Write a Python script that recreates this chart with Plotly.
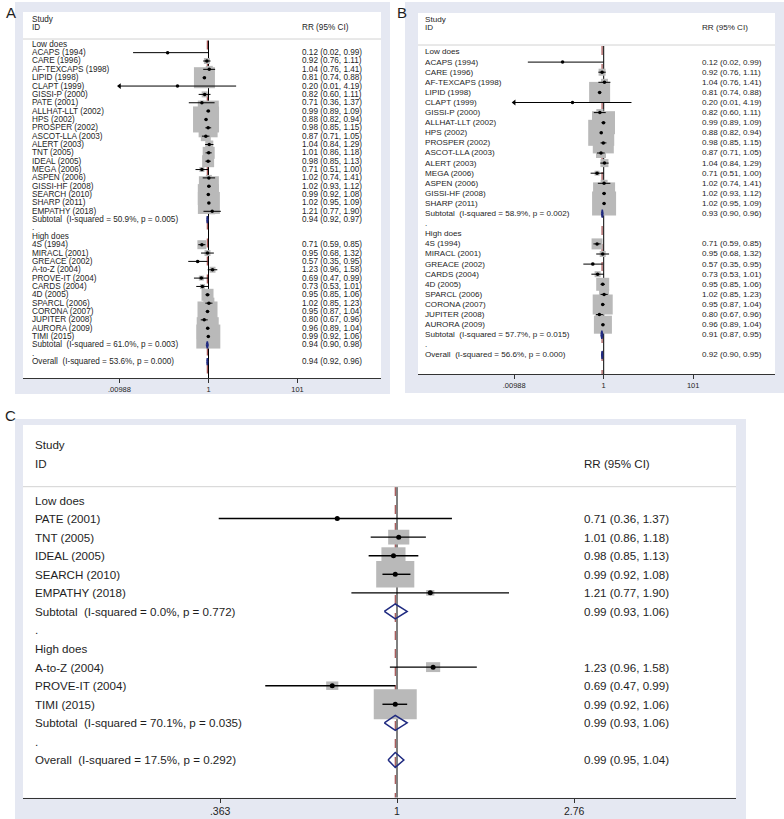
import plotly.graph_objects as go

# ======================= DATA =======================
# ---- Panel A ----
A_low_study = ["ACAPS (1994)", "CARE (1996)", "AF-TEXCAPS (1998)", "LIPID (1998)", "CLAPT (1999)",
               "GISSI-P (2000)", "PATE (2001)", "ALLHAT-LLT (2002)", "HPS (2002)", "PROSPER (2002)",
               "ASCOT-LLA (2003)", "ALERT (2003)", "TNT (2005)", "IDEAL (2005)", "MEGA (2006)",
               "ASPEN (2006)", "GISSI-HF (2008)", "SEARCH (2010)", "SHARP (2011)", "EMPATHY (2018)"]
A_low_rr = [0.12, 0.92, 1.04, 0.81, 0.20, 0.82, 0.71, 0.99, 0.88, 0.98, 0.87, 1.04, 1.01, 0.98, 0.71, 1.02, 1.02, 0.99, 1.02, 1.21]
A_low_lo = [0.02, 0.76, 0.76, 0.74, 0.01, 0.60, 0.36, 0.89, 0.82, 0.85, 0.71, 0.84, 0.86, 0.85, 0.51, 0.74, 0.93, 0.92, 0.95, 0.77]
A_low_hi = [0.99, 1.11, 1.41, 0.88, 4.19, 1.11, 1.37, 1.09, 0.94, 1.15, 1.05, 1.29, 1.18, 1.13, 1.00, 1.41, 1.12, 1.08, 1.09, 1.90]
A_low_w = [0.07, 0.60, 0.82, 7.41, 0.02, 0.60, 0.27, 7.41, 11.36, 6.06, 1.68, 1.08, 2.42, 2.42, 0.42, 0.60, 6.72, 7.41, 8.13, 0.60]
A_low_sub = [0.94, 0.92, 0.97]
A_low_het = ["50.9%", "0.005"]
A_high_study = ["4S (1994)", "MIRACL (2001)", "GREACE (2002)", "A-to-Z (2004)", "PROVE-IT (2004)", "CARDS (2004)",
                "4D (2005)", "SPARCL (2006)", "CORONA (2007)", "JUPITER (2008)", "AURORA (2009)", "TIMI (2015)"]
A_high_rr = [0.71, 0.95, 0.57, 1.23, 0.69, 0.73, 0.95, 1.02, 0.95, 0.80, 0.96, 0.99]
A_high_lo = [0.59, 0.68, 0.35, 0.96, 0.47, 0.53, 0.85, 0.85, 0.87, 0.67, 0.89, 0.92]
A_high_hi = [0.85, 1.32, 0.95, 1.58, 0.99, 1.01, 1.06, 1.23, 1.04, 0.96, 1.04, 1.06]
A_high_w = [1.36, 0.60, 0.15, 0.60, 0.42, 0.42, 2.42, 2.03, 6.72, 1.36, 8.13, 9.68]
A_high_sub = [0.94, 0.90, 0.98]
A_high_het = ["61.0%", "0.003"]
A_overall = [0.94, 0.92, 0.96]
A_overall_het = ["53.6%", "0.000"]
A_arrow = ["CLAPT (1999)"]
A_tickvals = [0.00988, 1, 101]
A_ticktext = [".00988", "1", "101"]

# ---- Panel B ----
B_low_study = ["ACAPS (1994)", "CARE (1996)", "AF-TEXCAPS (1998)", "LIPID (1998)", "CLAPT (1999)",
               "GISSI-P (2000)", "ALLHAT-LLT (2002)", "HPS (2002)", "PROSPER (2002)", "ASCOT-LLA (2003)",
               "ALERT (2003)", "MEGA (2006)", "ASPEN (2006)", "GISSI-HF (2008)", "SHARP (2011)"]
B_low_rr = [0.12, 0.92, 1.04, 0.81, 0.20, 0.82, 0.99, 0.88, 0.98, 0.87, 1.04, 0.71, 1.02, 1.02, 1.02]
B_low_lo = [0.02, 0.76, 0.76, 0.74, 0.01, 0.60, 0.89, 0.82, 0.85, 0.71, 0.84, 0.51, 0.74, 0.93, 0.95]
B_low_hi = [0.99, 1.11, 1.41, 0.88, 4.19, 1.11, 1.09, 0.94, 1.15, 1.05, 1.29, 1.00, 1.41, 1.12, 1.09]
B_low_w = [0.08, 1.02, 1.02, 9.19, 0.02, 1.02, 11.03, 14.10, 9.19, 2.09, 1.33, 0.52, 1.02, 10.09, 12.01]
B_low_sub = [0.93, 0.90, 0.96]
B_low_het = ["58.9%", "0.002"]
B_high_study = ["4S (1994)", "MIRACL (2001)", "GREACE (2002)", "CARDS (2004)", "4D (2005)",
                "SPARCL (2006)", "CORONA (2007)", "JUPITER (2008)", "AURORA (2009)"]
B_high_rr = [0.71, 0.95, 0.57, 0.73, 0.95, 1.02, 0.95, 0.80, 0.96]
B_high_lo = [0.59, 0.68, 0.35, 0.53, 0.85, 0.85, 0.87, 0.67, 0.89]
B_high_hi = [0.85, 1.32, 0.95, 1.01, 1.06, 1.23, 1.04, 0.96, 1.04]
B_high_w = [2.52, 0.75, 0.19, 0.75, 3.52, 2.09, 8.34, 1.33, 6.76]
B_high_sub = [0.91, 0.87, 0.95]
B_high_het = ["57.7%", "0.015"]
B_overall = [0.92, 0.90, 0.95]
B_overall_het = ["56.6%", "0.000"]
B_arrow = ["CLAPT (1999)"]
B_tickvals = [0.00988, 1, 101]
B_ticktext = [".00988", "1", "101"]

# ---- Panel C ----
C_low_study = ["PATE (2001)", "TNT (2005)", "IDEAL (2005)", "SEARCH (2010)", "EMPATHY (2018)"]
C_low_rr = [0.71, 1.01, 0.98, 0.99, 1.21]
C_low_lo = [0.36, 0.86, 0.85, 0.92, 0.77]
C_low_hi = [1.37, 1.18, 1.13, 1.08, 1.90]
C_low_w = [0.4, 9.4, 12.2, 30.5, 1.4]
C_low_sub = [0.99, 0.93, 1.06]
C_low_het = ["0.0%", "0.772"]
C_high_study = ["A-to-Z (2004)", "PROVE-IT (2004)", "TIMI (2015)"]
C_high_rr = [1.23, 0.69, 0.99]
C_high_lo = [0.96, 0.47, 0.92]
C_high_hi = [1.58, 0.99, 1.06]
C_high_w = [4.2, 3.1, 38.8]
C_high_sub = [0.99, 0.93, 1.06]
C_high_het = ["70.1%", "0.035"]
C_overall = [0.99, 0.95, 1.04]
C_overall_het = ["17.5%", "0.292"]
C_arrow = []
C_tickvals = [0.363, 1, 2.76]
C_ticktext = [".363", "1", "2.76"]

GROUP_LOW = "Low does"
GROUP_HIGH = "High does"

# ======================= STYLE / LAYOUT =======================
W, H = 784, 819
FONT = "Liberation Sans, Arial, sans-serif"
TXT = "#1e1e1e"
LAV = "#e5e8f2"
BOXC = "#b9b9b9"
NAVY = "#1f2a80"
RED = "#8e2a2a"
NB = "\u00a0"


def px(x):
    return x / W


def py(y):
    return 1 - y / H


panels = [
    dict(letter="A", letter_xy=(4, 13), lav=(15, 2, 390, 394),
         low=(A_low_study, A_low_rr, A_low_lo, A_low_hi, A_low_w, A_low_sub, A_low_het),
         high=(A_high_study, A_high_rr, A_high_lo, A_high_hi, A_high_w, A_high_sub, A_high_het),
         overall=(A_overall, A_overall_het), arrow=A_arrow, tv=A_tickvals, tt=A_ticktext,
         xpx=(23, 381), ypx=(12, 378), row0=44.3, dy=8.35, null=208.5, ppl=44.4,
         label_x=29.5, rr_x=300, fs=8.2, tfs=7.5, kx=7.72, ky=7.72, dot=3.5, lw=1.0, dh=0.42,
         study_y=20, id_y=28, hdr_y=39, null_top=40.5),
    dict(letter="B", letter_xy=(395, 13), lav=(405, 2, 784, 393),
         low=(B_low_study, B_low_rr, B_low_lo, B_low_hi, B_low_w, B_low_sub, B_low_het),
         high=(B_high_study, B_high_rr, B_high_lo, B_high_hi, B_high_w, B_high_sub, B_high_het),
         overall=(B_overall, B_overall_het), arrow=B_arrow, tv=B_tickvals, tt=B_ticktext,
         xpx=(418, 775), ypx=(13, 374), row0=52.0, dy=10.1, null=603.7, ppl=44.65,
         label_x=423, rr_x=699.5, fs=8.1, tfs=7.5, kx=6.93, ky=6.93, dot=3.5, lw=1.0, dh=0.4,
         study_y=19.3, id_y=27.3, hdr_y=45, null_top=46),
    dict(letter="C", letter_xy=(3, 415), lav=(15, 419, 746, 819),
         low=(C_low_study, C_low_rr, C_low_lo, C_low_hi, C_low_w, C_low_sub, C_low_het),
         high=(C_high_study, C_high_rr, C_high_lo, C_high_hi, C_high_w, C_high_sub, C_high_het),
         overall=(C_overall, C_overall_het), arrow=C_arrow, tv=C_tickvals, tt=C_ticktext,
         xpx=(23, 736), ypx=(425, 797.7), row0=500, dy=18.57, null=397, ppl=401.8,
         label_x=33, rr_x=582, fs=11.6, tfs=10.5, kx=6.9, ky=4.82, dot=5, lw=1.4, dh=0.4,
         study_y=444.3, id_y=463.3, hdr_y=486.7, null_top=487),
]

fig = go.Figure()
shapes = []
annotations = []
layout_axes = {}

# backgrounds (lavender graph region, white plot region)
for cfg in panels:
    x0, y0, x1, y1 = cfg["lav"]
    shapes.append(dict(type="rect", xref="paper", yref="paper", x0=px(x0), x1=px(x1),
                       y0=py(y1), y1=py(y0), fillcolor=LAV, line=dict(width=0), layer="below"))
for cfg in panels:
    shapes.append(dict(type="rect", xref="paper", yref="paper", x0=px(cfg["xpx"][0]), x1=px(cfg["xpx"][1]),
                       y0=py(cfg["ypx"][1]), y1=py(cfg["ypx"][0]), fillcolor="white",
                       line=dict(width=0), layer="below"))


def fmt(r, l, h):
    return "%.2f (%.2f, %.2f)" % (r, l, h)


for idx, cfg in enumerate(panels, start=1):
    sx = "" if idx == 1 else str(idx)
    xa, ya = "x" + sx, "y" + sx

    def row_of(ypix, cfg=cfg):
        return (ypix - cfg["row0"]) / cfg["dy"]

    # ---- build rows ----
    rows = []
    for gname, grp in ((GROUP_LOW, cfg["low"]), (GROUP_HIGH, cfg["high"])):
        st, rr, lo, hi, w, sub, het = grp
        if gname == GROUP_HIGH:
            rows.append((".", "blank", None))
        rows.append((gname, "blank", None))
        for s, r, l, h, ww in zip(st, rr, lo, hi, w):
            rows.append((s, "study", (r, l, h, ww)))
        rows.append(("Subtotal" + NB + NB + "(I-squared = %s, p = %s)" % (het[0], het[1]), "diam", sub))
    rows.append((".", "blank", None))
    ov, ovhet = cfg["overall"]
    rows.append(("Overall" + NB + NB + "(I-squared = %s, p = %s)" % (ovhet[0], ovhet[1]), "diam", ov))

    ybot = row_of(cfg["ypx"][1])
    ytop = row_of(cfg["ypx"][0])
    xl = (cfg["xpx"][0] - cfg["null"]) / cfg["ppl"]
    xr = (cfg["xpx"][1] - cfg["null"]) / cfg["ppl"]

    # reference lines (below boxes)
    shapes.append(dict(type="line", xref=xa, yref=ya, x0=1, x1=1, y0=row_of(cfg["null_top"]), y1=ybot,
                       line=dict(color="black", width=1), layer="below"))
    shapes.append(dict(type="line", xref=xa, yref=ya, x0=ov[0], x1=ov[0], y0=row_of(cfg["null_top"]), y1=ybot,
                       line=dict(color=RED, width=1, dash="dash"), layer="below"))
    # header separator line
    shapes.append(dict(type="line", xref="paper", yref=ya, x0=px(cfg["xpx"][0]), x1=px(cfg["xpx"][1]),
                       y0=row_of(cfg["hdr_y"]), y1=row_of(cfg["hdr_y"]),
                       line=dict(color="#d2d2d2", width=1), layer="above"))

    ci_x, ci_y, pt_x, pt_y, ar_x, ar_y, dx, dyy = [], [], [], [], [], [], [], []
    tfont = dict(family=FONT, size=cfg["fs"], color=TXT)
    for i, (label, kind, vals) in enumerate(rows):
        annotations.append(dict(xref="paper", yref=ya, x=px(cfg["label_x"]), y=i, text=label,
                                showarrow=False, xanchor="left", yanchor="middle", font=tfont))
        if kind == "study":
            r, l, h, ww = vals
            annotations.append(dict(xref="paper", yref=ya, x=px(cfg["rr_x"]), y=i, text=fmt(r, l, h),
                                    showarrow=False, xanchor="left", yanchor="middle", font=tfont))
            # weight box: area proportional to study weight (sizes in pixels -> data units)
            half_w = cfg["kx"] * ww ** 0.5 / 2 / cfg["ppl"]
            half_h = cfg["ky"] * ww ** 0.5 / 2 / cfg["dy"]
            shapes.append(dict(type="rect", xref=xa, yref=ya,
                               x0=r * 10 ** (-half_w), x1=r * 10 ** half_w,
                               y0=i - half_h, y1=i + half_h,
                               fillcolor=BOXC, line=dict(width=0), layer="below"))
            left = l
            if label in cfg["arrow"]:
                left = cfg["tv"][0]
                ar_x.append(left)
                ar_y.append(i)
            ci_x += [left, h, None]
            ci_y += [i, i, None]
            pt_x.append(r)
            pt_y.append(i)
        elif kind == "diam":
            e, l, h = vals
            annotations.append(dict(xref="paper", yref=ya, x=px(cfg["rr_x"]), y=i, text=fmt(e, l, h),
                                    showarrow=False, xanchor="left", yanchor="middle", font=tfont))
            d = cfg["dh"]
            dx += [l, e, h, e, l, None]
            dyy += [i, i - d, i, i + d, i, None]

    # header texts
    for txt, yy, xx in (("Study", cfg["study_y"], cfg["label_x"]), ("ID", cfg["id_y"], cfg["label_x"]),
                        ("RR (95% CI)", cfg["id_y"], cfg["rr_x"])):
        annotations.append(dict(xref="paper", yref=ya, x=px(xx), y=row_of(yy), text=txt, showarrow=False,
                                xanchor="left", yanchor="middle", font=tfont))
    # panel letter
    annotations.append(dict(xref="paper", yref="paper", x=px(cfg["letter_xy"][0]), y=py(cfg["letter_xy"][1]),
                            text=cfg["letter"], showarrow=False, xanchor="left", yanchor="middle",
                            font=dict(family=FONT, size=15, color=TXT)))

    fig.add_trace(go.Scatter(x=ci_x, y=ci_y, mode="lines", line=dict(color="black", width=cfg["lw"]),
                             xaxis=xa, yaxis=ya, hoverinfo="skip", showlegend=False))
    fig.add_trace(go.Scatter(x=pt_x, y=pt_y, mode="markers",
                             marker=dict(symbol="circle", size=cfg["dot"], color="black"),
                             xaxis=xa, yaxis=ya, hoverinfo="skip", showlegend=False))
    if ar_x:
        fig.add_trace(go.Scatter(x=ar_x, y=ar_y, mode="markers",
                                 marker=dict(symbol="triangle-left", size=5, color="black"),
                                 xaxis=xa, yaxis=ya, hoverinfo="skip", showlegend=False, cliponaxis=False))
    fig.add_trace(go.Scatter(x=dx, y=dyy, mode="lines", line=dict(color=NAVY, width=1.5),
                             xaxis=xa, yaxis=ya, hoverinfo="skip", showlegend=False))

    layout_axes["xaxis" + sx] = dict(
        type="log", range=[xl, xr], domain=[px(cfg["xpx"][0]), px(cfg["xpx"][1])], anchor=ya,
        tickvals=cfg["tv"], ticktext=cfg["tt"], ticks="outside", ticklen=4, tickwidth=1, tickcolor="#333",
        showline=True, linecolor="#333", linewidth=1, showgrid=False, zeroline=False,
        tickfont=dict(family=FONT, size=cfg["tfs"], color=TXT), fixedrange=True, automargin=False)
    layout_axes["yaxis" + sx] = dict(
        range=[ybot, ytop], domain=[py(cfg["ypx"][1]), py(cfg["ypx"][0])], anchor=xa,
        visible=False, showgrid=False, zeroline=False, fixedrange=True)

fig.update_layout(width=W, height=H, margin=dict(l=0, r=0, t=0, b=0),
                  paper_bgcolor="white", plot_bgcolor="rgba(0,0,0,0)", showlegend=False,
                  hovermode=False, shapes=shapes, annotations=annotations, **layout_axes)

fig.write_html("out.html", config={"displayModeBar": False, "staticPlot": True},
               post_script="document.body.style.margin='0px';document.body.style.padding='0px';")
